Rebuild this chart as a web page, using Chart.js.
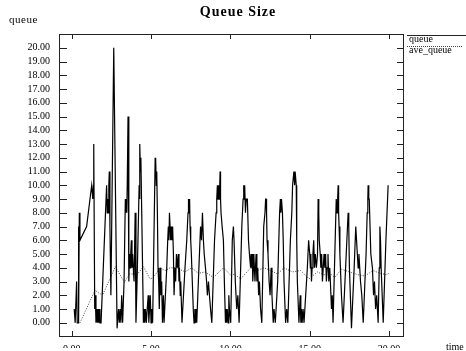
<!DOCTYPE html>
<html>
<head>
<meta charset="utf-8">
<script src="https://cdn.jsdelivr.net/npm/chart.js@4/dist/chart.umd.min.js"></script>
<style>
html,body{margin:0;padding:0;background:#fff;}
canvas{display:block;}
</style>
</head>
<body>
<canvas id="c" width="466" height="351"></canvas>
<script>
// ---- data ----
const chartTitle = "Queue Size";
const yAxisTitle = "queue";
const xAxisTitle = "time";
const seriesNames = ["queue", "ave_queue"];
const xTickValues = [0, 5, 10, 15, 20];
const yTickValues = [0,1,2,3,4,5,6,7,8,9,10,11,12,13,14,15,16,17,18,19,20];

const queueTime = [
  0.16,0.22,0.27,0.31,0.35,0.40,0.42,0.45,0.48,0.52,0.94,1.26,1.33,1.37,1.39,1.45,1.49,1.53,1.58,1.62,
  1.66,1.70,1.74,1.78,1.85,2.20,2.24,2.28,2.31,2.34,2.37,2.41,2.47,2.65,2.86,2.95,3.00,3.05,3.10,3.15,
  3.21,3.30,3.38,3.41,3.44,3.47,3.50,3.55,3.60,3.64,3.68,3.72,3.76,3.80,3.84,3.88,3.93,4.00,4.05,4.12,
  4.25,4.28,4.30,4.33,4.36,4.52,4.56,4.60,4.65,4.70,4.76,4.82,4.86,4.95,5.00,5.05,5.10,5.26,5.28,5.30,
  5.33,5.36,5.40,5.44,5.48,5.52,5.57,5.62,5.67,5.72,5.78,5.82,5.99,6.05,6.09,6.13,6.16,6.20,6.24,6.28,
  6.32,6.36,6.41,6.45,6.51,6.55,6.60,6.66,6.72,6.76,6.79,6.84,6.87,6.95,7.14,7.25,7.29,7.33,7.36,7.40,
  7.43,7.46,7.50,7.54,7.60,7.66,7.71,7.76,7.80,7.84,7.88,8.05,8.12,8.18,8.24,8.30,8.35,8.43,8.50,8.55,
  8.62,8.68,8.75,8.83,9.00,9.10,9.14,9.18,9.22,9.25,9.29,9.33,9.35,9.38,9.41,9.48,9.56,9.62,9.69,9.73,
  9.77,9.80,9.86,9.90,9.94,10.02,10.12,10.19,10.23,10.31,10.40,10.47,10.55,10.72,10.80,10.84,10.86,10.90,10.95,11.00,
  11.07,11.14,11.20,11.27,11.30,11.34,11.38,11.41,11.45,11.48,11.51,11.55,11.58,11.62,11.67,11.72,11.78,11.83,11.90,11.98,
  12.10,12.18,12.22,12.25,12.28,12.31,12.37,12.44,12.50,12.57,12.62,12.66,12.70,12.75,12.83,12.98,13.10,13.15,13.18,13.22,
  13.28,13.33,13.38,13.48,13.55,13.62,13.78,13.87,13.92,14.00,14.05,14.08,14.12,14.15,14.18,14.22,14.32,14.36,14.40,14.44,
  14.48,14.52,14.58,14.64,14.70,14.85,14.93,15.00,15.04,15.07,15.11,15.15,15.20,15.25,15.30,15.35,15.42,15.49,15.53,15.57,
  15.60,15.66,15.70,15.75,15.80,15.85,15.90,15.95,16.00,16.05,16.10,16.15,16.20,16.26,16.30,16.37,16.42,16.47,16.67,16.72,
  16.76,16.79,16.82,16.85,16.90,17.00,17.10,17.30,17.38,17.42,17.46,17.50,17.63,17.80,17.90,17.95,18.00,18.05,18.10,18.15,
  18.20,18.28,18.37,18.55,18.62,18.66,18.68,18.72,18.75,18.85,18.95,19.02,19.08,19.15,19.22,19.31,19.38,19.42,19.46,19.50,
  19.63,19.80,19.94
];
const queueValues = [
  1,0,0,3,0,0,7,0,8,6,7,10,9,10,13,1,2,0,1,0,
  1,0,1,0,0,10,8,9,8,10,11,7,2,20,-0.4,1,0,1,0,2,
  0,3,9,8,9,8,10,15,3,5,4,5,6,4,5,4,3,8,0,3,
  10,9,13,11,12,0,1,0,1,0,1,2,0,2,0,1,0,12,11,12,
  10,11,8,4,3,1,4,2,3,0,2,0,4,6,7,6,8,7,6,7,
  6,7,5,2,4,3,5,4,5,3,4,2,3,0,4,6,7,8,9,8,
  9,7,6,5,3,1,0,1,0,1,0,5,7,6,8,6,5,4,3,2,
  3,2,1,0,6,8,9,10,9,10,9,10,11,9,8,7,6,3,0,1,
  0,1,0,2,1,0,6,7,6,3,1,2,0,7,9,10,9,10,8,9,
  9,6,5,4,5,4,5,3,4,5,4,3,4,5,3,4,2,3,1,0,
  7,8,9,9,8,6,5,3,2,4,2,1,0,1,0,3,8,9,8,9,
  8,6,3,0,1,0,6,8,10,11,10,11,11,10,6,3,0,1,2,0,
  1,0,1,0,0,4,6,5,4,5,3,4,5,6,4,5,4,5,9,8,
  6,5,4,5,3,4,5,4,5,3,4,5,3,4,3,1,2,0,9,8,
  9,10,8,7,5,2,0,5,7,8,7,4,-0.4,4,7,6,5,4,5,4,
  3,2,0,5,8,9,10,9,9,5,4,2,3,1,2,0,4,7,6,4,
  0,6,10
];

const aveTime = [
  0.52,1.47,1.79,1.98,2.75,3.32,3.63,4.15,4.52,4.94,5.15,5.57,5.88,6.20,6.62,7.14,7.56,7.98,8.40,8.93,
  9.56,10.08,10.23,10.65,11.28,11.70,12.12,12.55,12.97,13.38,13.91,14.43,14.96,15.49,15.84,16.37,16.58,17.00,17.50,18.05,
  18.47,18.99,19.42,19.84,19.98
];
const aveValues = [
  0,2.37,2.1,2.1,4.08,2.95,3.55,3.55,4.08,3.19,3.3,4.0,3.8,4.0,4.0,3.7,4.0,3.6,3.7,3.3,
  4.0,3.4,3.55,3.2,4.0,3.8,4.0,3.8,3.55,4.0,3.7,3.8,3.2,3.7,3.5,3.5,3.3,3.9,3.7,3.5,
  3.4,3.8,3.6,3.5,3.6
];

// ---- build ----
const toPts = (xs, ys) => xs.map((x, i) => ({x: x, y: ys[i]}));
const SERIF = '"Liberation Serif", "DejaVu Serif", serif';

const framePlugin = {
  id: 'frame',
  afterDraw(chart) {
    const ctx = chart.ctx;
    const a = chart.chartArea;
    const xs = chart.scales.x, ys = chart.scales.y;
    ctx.save();
    ctx.strokeStyle = '#222';
    ctx.lineWidth = 1;
    ctx.strokeRect(Math.round(a.left) + 0.5, Math.round(a.top) + 0.5,
                   Math.round(a.right - a.left) - 1, Math.round(a.bottom - a.top));
    ctx.beginPath();
    yTickValues.forEach(v => {
      const p = Math.round(ys.getPixelForValue(v)) + 0.5;
      ctx.moveTo(a.left, p); ctx.lineTo(a.left + 8, p);
      ctx.moveTo(a.right, p); ctx.lineTo(a.right - 7, p);
    });
    xTickValues.forEach(v => {
      const p = Math.round(xs.getPixelForValue(v)) + 0.5;
      ctx.moveTo(p, a.top); ctx.lineTo(p, a.top + 5);
      ctx.moveTo(p, a.bottom); ctx.lineTo(p, a.bottom - 5);
    });
    ctx.stroke();

    // title
    ctx.fillStyle = '#000';
    ctx.textBaseline = 'alphabetic';
    ctx.textAlign = 'center';
    ctx.font = 'bold 14px ' + SERIF;
    try { ctx.letterSpacing = '1px'; } catch (e) {}
    ctx.fillText(chartTitle, 238, 16);
    // axis titles
    ctx.textAlign = 'left';
    ctx.font = '11px ' + SERIF;
    try { ctx.letterSpacing = '0.5px'; } catch (e) {}
    ctx.fillText(yAxisTitle, 9, 23);
    try { ctx.letterSpacing = '0px'; } catch (e) {}
    ctx.font = '10px ' + SERIF;
    ctx.fillText(xAxisTitle, 446, 350);
    // legend
    ctx.font = '10px ' + SERIF;
    ctx.beginPath();
    ctx.moveTo(407, 35.5); ctx.lineTo(466, 35.5);
    ctx.stroke();
    ctx.fillText(seriesNames[0], 409, 42);
    ctx.save();
    ctx.strokeStyle = '#444';
    ctx.setLineDash([1, 1]);
    ctx.beginPath();
    ctx.moveTo(407, 46.5); ctx.lineTo(463, 46.5);
    ctx.stroke();
    ctx.restore();
    ctx.fillText(seriesNames[1], 409, 53);
    ctx.restore();
  }
};

new Chart(document.getElementById('c'), {
  type: 'line',
  data: {
    datasets: [
      {
        label: seriesNames[0],
        data: toPts(queueTime, queueValues),
        borderColor: '#000',
        borderWidth: 1.2,
        pointRadius: 0,
        tension: 0,
        fill: false
      },
      {
        label: seriesNames[1],
        data: toPts(aveTime, aveValues),
        borderColor: '#444',
        borderWidth: 1,
        borderDash: [1, 1.5],
        pointRadius: 0,
        tension: 0,
        fill: false
      }
    ]
  },
  options: {
    responsive: false,
    animation: false,
    devicePixelRatio: 1,
    layout: { padding: { top: 34, right: 62, left: 0, bottom: 0 } },
    plugins: { legend: { display: false }, title: { display: false }, tooltip: { enabled: false } },
    scales: {
      x: {
        type: 'linear',
        min: -0.8,
        max: 20.94,
        afterBuildTicks: s => { s.ticks = xTickValues.map(v => ({value: v})); },
        afterFit: s => { s.height = 12; },
        grid: { display: false, drawTicks: false },
        border: { display: false },
        ticks: {
          padding: 7,
          color: '#000',
          font: { family: SERIF, size: 10 },
          maxRotation: 0,
          autoSkip: false,
          callback: v => Number(v).toFixed(2)
        }
      },
      y: {
        type: 'linear',
        min: -0.957,
        max: 21,
        afterBuildTicks: s => { s.ticks = yTickValues.map(v => ({value: v})); },
        afterFit: s => { s.width = 59; },
        grid: { display: false, drawTicks: false },
        border: { display: false },
        ticks: {
          padding: 9,
          color: '#000',
          font: { family: SERIF, size: 10 },
          autoSkip: false,
          callback: v => Number(v).toFixed(2)
        }
      }
    }
  },
  plugins: [framePlugin]
});
</script>
</body>
</html>
